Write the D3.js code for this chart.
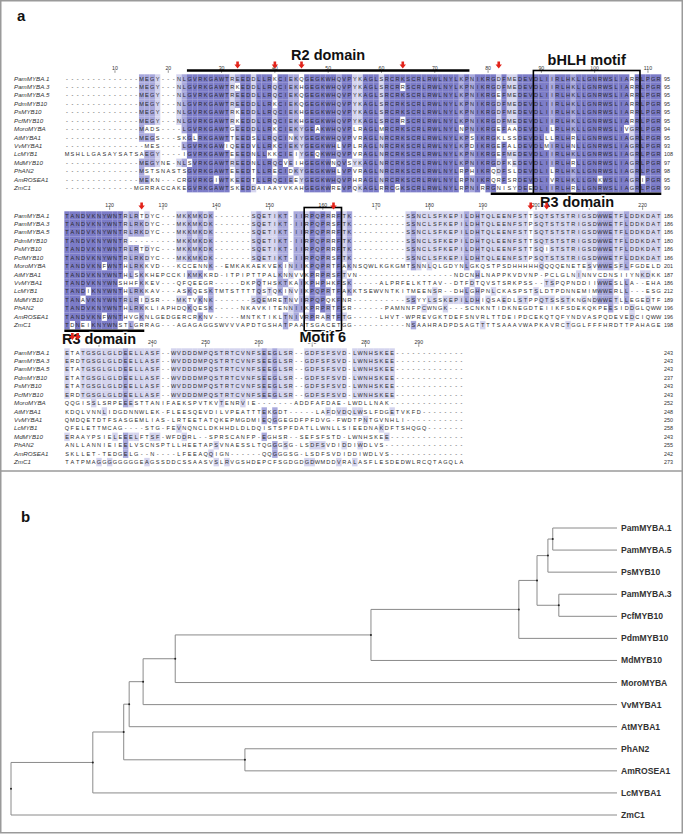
<!DOCTYPE html>
<html><head><meta charset="utf-8">
<script src="https://cdn.jsdelivr.net/npm/d3@7"></script>
<style>body{margin:0;background:#fff}svg{display:block}</style>
</head><body>
<svg id="fig" width="684" height="834"></svg>
<script>
// ---------------- DATA ----------------
const names = ["PamMYBA.1","PamMYBA.3","PamMYBA.5","PdmMYB10","PsMYB10","PcfMYB10","MoroMYBA","AtMYBA1","VvMYBA1","LcMYB1","MdMYB10","PhAN2","AmROSEA1","ZmC1"];

const block1 = [
 "--------------MEGY---NLGVRKGAWT"+"REEDDLLRKCIEKQGEGKWHQVPYKAGLSRCRKSCRLRWLNYL"+"KPNIKRGDFMEDEVDLIIRLHKLLGNRWSLIARRLPGR",
 "--------------MEGY---NLGVRKGAWT"+"RKEDDLLRQCIEKHGEGKWHQVPYKAGLSRCRRSCRLRWLNYL"+"KPNIKRGDFMEDEVDLIIRLHKLLGNRWSLIARRLPGR",
 "--------------MEGY---NLGVRKGAWT"+"REEDDLLRQCIEKQGEGKWHQVPYKAGLSRCRKSCRLRWLNYL"+"KPNIKRGEFMEDEVDLIIRLHKLLGNRWSLIARRLPGR",
 "--------------MEGY---NLGVRKGAWT"+"REEDDLLRKCIEKQGEGKWHQVPYKAGLSRCRKSCRLRWLNYL"+"KPNIKRGDFMEDEVDLIIRLHKLLGNRWSLIARRLPGR",
 "--------------MEGY---NLGVRKGAWT"+"RKEDDLLRQCIEKHGEGKWHQVPYKAGLSRCRKSCRLRWLNYL"+"KPNIKRGDFMEDEVDLIIRLHKLLGNRWSLIARRLPGR",
 "--------------MEGY---NLGVRKGAWT"+"RKEDDLLRQCIEKHGEGKWHQVPYKAGLSRCRRSCRLRWLNYL"+"KPNIKRGDFMEDEVDLIIRLHKLLGNRWSLIARRLPGR",
 "--------------MADS----LGVRKGAWT"+"GEEDDLLRKCIEKYGEAKWHQVPLRAGLMRCRKSCRLRWLNYL"+"NPNIKRGEFAADEVDLILRLHKLLGNRWSLIVGRLPGR",
 "--------------MEGS---SKGLRKGAWT"+"TEEDSLLRQCINKYGEGKWHQVPVRAGLNRCRKSCRLRWLNYL"+"KPSIKRGKLSSDEVDLLLRLHRLLGNRWSLIAGRLPGR",
 "---------------MES----LGVRKGAWI"+"QEEDVLLRKCIEKYGEGKWHLVPLRAGLNRCRKSCRLRWLNYL"+"KPDIKRGEFALDEVDLMIRLHNLLGNRWSLIAGRLPGR",
 "MSHLLGASAYSATSAEGY----IGVRKGAWT"+"EEEDNLLKKCIEIYGEQKWHQVPVRAGLNRCRKSCRLRWLNYL"+"KPNIKRGEFMEDEVDLIIRLHKLLGNRWSLIAGRLPGR",
 "--------------MEGYNE-NLSVRKGAWT"+"REEDNLLRQCVEIHGEGKWNQVSYKAGLNRCRKSCRLRWLNYL"+"KPNIKRGDFKEDEVDLIIRLHRLLGNRWSLIAGRLPGR",
 "--------------MSTSNASTSGVRKGAWT"+"EEEDTLLRECIDKYGEGKWHLVPVRAGLNRCRKSCRLRWLNYL"+"RPHIKRQDFSLDEVDLILRLHKLLGNRWSLIAGRLPGR",
 "--------------MEKN---CRGVRKGIWT"+"KEEDTLLRQCIEEYGEGKWHQVPHRAGLNRCRKSCRLRWLNYL"+"RPNIKRQRFSRDEVDLIVRLHKLLGNKWSLIAGRIPGR",
 "-------------MGRRACCAKEGVRKGAWT"+"SKEDDAIAAYVKAHGEGKWREVPQKAGLRRCGKSCRLRWLNYL"+"RPNIRRGNISYDEEDLIIRLHRLLGNRWSLIAGRLPGR"
];
const block2 = [
 "TANDVKNYWNTRLRTDYC---MKKMKDK-------SQETIKT-IIRPQPRRFTK----------SSNCLSFK"+"EPILDHTQLEENFSTTSQTSTSTRIGSDWWETFLDDKDAT",
 "TANDVKNYWNTRLRKDYC---MKKMKDK-------SQETIKT-IIRPQPRSFTK----------SSNCLSFK"+"EPILDHTQLEENFSTPSQTSTSTRIGSDWWETFLDDKDAT",
 "TANDVKNYWNTRLRKDYC---MKKMKDK-------SQETIKT-IIRPQPRRFTK----------SSNCLSFK"+"EPILDHTQLEENFSTTSQTSTSTRIGSDWWETFLDDKDAT",
 "TANDVKNYWNTR---------MKKMKDK-------SQETIKT-IIRPQPRRFTK----------SSNCLSFK"+"EPILDHTQLEENFSTTSQTSTSTRIGSDWWETFLDDKDAT",
 "TANDVKNYWNTRLRTDYC---MKKMKDK-------SQETIKT-IIRPQPRRFTK----------SSNCLSFK"+"EPILDHTQLEENFSTTSQISTSTRIGSDWWETFLDDKDAT",
 "TANDVKNYWNTRLRKDYC---MKKMKDK-------SQETIKT-IIRPQPRSFTK----------SSNCLSFK"+"EPILDHTQLEENFSTPSQTSTSTRIGSDWWETFLDDKDAT",
 "TANDVKNFWNTHLRKKVD---KCCENNK--EMKAKAEKVEKINIIKPQPRTFAKNSQWLKGKGMTSNNLQLG"+"DYNLGKQSTPSDHHHHHQQQQENETESVWWESFLFGDELD",
 "TANDVKNYWNTHLSKKHEPCCKIKMKKRD-ITPIPTTPALKNNVVKPRPRSFTVN-----------------"+"-NDCNHLNAPPKVDVNP-PCLGLNINNVCDNSIIYNKDKK",
 "TANDVKNYWNSHHFKKEV---QFQEEGR-----DKPQTHSKTKAIKPHPHKFSK-----ALPRFELKTTAV-"+"-DTFDTQVSTSRKPSS--TSPQPNDDIIWWESLLA--EHA",
 "TANDIKNYWNTHLRKKAV---ASKQESKTMTSTTTTQSTQKINVIKPQPRTFAKKTSEWVNTKITMEENSR-"+"-DHLGHPNLCKASPSTSLDTPDNNEMIMWWERLL---ESG",
 "TANAVKNYWNTRLRIDSR---MKTVKNK-------SQEMRETNVIRPQPQKFNR----------SSYYLSSK"+"EPILDHIQSAEDLSTPPQTSSSTKNGNDWWETLLEGEDTF",
 "TANDVKNYWNTHLRKKLIAPHDQKQESK-----NKAVKITENNIIKPRPRTFSR------PAMNNFPCWNGK"+"---SCNKNTIDKNEGDTEIIKFSDEKQKPEESIDDGLQWW",
 "TANDVKNFWNTHVGKNLGEDGERCRKNV-----MNTKTIKLTNIVRPRARTFTG-----LHVT-WPREVGKT"+"DEFSNVRLTTDEIPDCEKQTQFYNDVASPQDEVEDCIQWW",
 "TDNEIKNYWNSTLGRRAG---AGAGAGGSWVVVAPDTGSHATPAATSGACETGG----------NSAAHRAD"+"PDSAGTTTTSAAAVWAPKAVRCTGGLFFFHRDTTPAHAGE"
];
const block3 = [
 "ETATGSGLGLDEELLASF--WVDDDMPQSTRTCVNFSEEGLSR--GDFSFSVD-LWNHSKEE",
 "ERDTGSGLGLDEELLASF--WVDDDMPQSTRTCVNFSEEGLSR--GDFSFSVD-LWNHSKEE",
 "ETATGSGLGLDEELLASF--WVDDDMPQSTRTCVNFSEEGLSR--GDFSFSVD-LWNHSKEE",
 "ETATGSGLGLDEELLASF--WVDDDMPQSTRTCVNFSEEGLSR--GDFSFSVD-LWNHSKEE",
 "ETATGSGLGLDEELLASF--WVDDDMPQSTRTCVNFSEEGLSR--GDFSFSVD-LWNHSKEE",
 "ERDTGSGLGLDEELLASF--WVDDDMPQSTRTCVNFSEEGLSR--GDFSFSVD-LWNHSKEE",
 "QQGISSLSRPEEESTTANIFAEKSPVTKVTENRVIE-------ADDFAFDAE-LWDLLNAK",
 "KDQLVNNLIDGDNNWLEK-FLEESQEVDILVPEATTTEKGDT-----LAFDVDQLWSLFDGETVKFD",
 "QMDQETDTFSASGEMLIAS-LRTEETATQKEPMGDMIEQGGEGDFPFDVG-FWDTPNTGVNHLI",
 "QFELETTMCAG----STG-FEVNQNCLDKHHDLDLDQISTSPFDATLLWNLLSIEEDNAKDFTSHQGQ",
 "ERAAYPSIELEEELFTSF-WFDDRL--SPRSCANFP-EGHSR--SEFSFSTD-LWNHSKEE",
 "ANLLANNIEIEELVSCNSPTLLHEETAPSVNAESSLTQGGGSG-LSDFSVDIDDIWDLVS",
 "SKLLET-TEDGELG--N----LFEEAQQIGN------QQGGGSG-LSDFSVDIDDIWDLVS",
 "TATPMAGGGGGGGGEAGSSDDCSSAASVSLRVGSHDEPCFSGDGDGDWMDDVRALASFLESDEDWLRCQTAGQLA"
];
const blockStarts = [1, 112, 224];
const endNumbers1 = [95,95,95,95,95,95,94,95,93,108,97,98,95,99];
const endNumbers2 = [186,186,186,180,186,186,201,187,186,212,189,196,196,198];
const endNumbers3 = [243,243,243,237,243,243,252,248,250,258,243,255,242,273];

// alignment annotations (alignment column positions)
const domainBars = [ {block:0, from:24, to:76}, {block:0, from:81, to:112}, {block:1, from:112, to:126} ];
const motifBoxes = [ {block:0, from:89, to:108, label:"bHLH motif"}, {block:1, from:157, to:163, label:"Motif 6"} ];
const arrowCols = [ [33,40,45,64,82], [126,162,199,202], [225,226] ];

const treeNewick = "(((((((((((PamMYBA.1:0.106,PamMYBA.5:0.106):0.008,PsMYB10:0.114):0.018,(PamMYBA.3:0.096,PcfMYB10:0.096):0.036):0.030,PdmMYB10:0.162):0.244,MdMYB10:0.406):0.323,MoroMYBA:0.729):0.053,VvMYBA1:0.782):0.023,AtMYBA1:0.805):0.009,(PhAN2:0.614,AmROSEA1:0.614):0.200):0.051,LcMYBA1:0.865):0.135,ZmC1:1.0);";

// ---------------- DRAWING ----------------
const svg = d3.select("#fig");
const FONT = "'Liberation Sans', Arial, sans-serif";
svg.append("rect").attr("x",0.75).attr("y",0.75).attr("width",681.5).attr("height",832)
  .attr("fill","none").attr("stroke","#9a9a9a").attr("stroke-width",1.5);
svg.append("line").attr("x1",0).attr("x2",683).attr("y1",471).attr("y2",471)
  .attr("stroke","#9a9a9a").attr("stroke-width",1.5);

svg.append("text").attr("x",17).attr("y",21).text("a")
  .attr("font-family",FONT).attr("font-weight","bold").attr("font-size",15).attr("fill","#111");
svg.append("text").attr("x",21).attr("y",522).text("b")
  .attr("font-family",FONT).attr("font-weight","bold").attr("font-size",15).attr("fill","#111");

const colW = 5.33, colX0 = 67, rowH = 8.43;
const blockRow1 = [78.5, 215.5, 352.5];
const blocks = [block1, block2, block3];
const endNums = [endNumbers1, endNumbers2, endNumbers3];
const shade = ["#d4d4ee", "#a8a8dc", "#7c7cc8"];

const xScales = [], yScales = [];
const gAln = svg.append("g");
blocks.forEach((rowsRaw, b) => {
  const ncol = d3.max(rowsRaw, r => r.length);
  const rows = rowsRaw.map(r => r.padEnd(ncol, "-"));
  const start = blockStarts[b];
  const x = d3.scaleLinear().domain([start, start + 1]).range([colX0, colX0 + colW]);
  const y = d3.scaleBand().domain(names).range([blockRow1[b] - rowH/2, blockRow1[b] - rowH/2 + rowH*names.length]);
  xScales.push(x); yScales.push(y);
  const g = gAln.append("g");
  const cells = [];
  for (let c = 0; c < ncol; c++) {
    const counts = d3.rollup(rows.map(r => r[c]).filter(ch => ch !== "-"), v => v.length, d => d);
    const mx = d3.max(counts.values()) || 0;
    const pid = mx / rows.length;
    rows.forEach((r, i) => {
      const ch = r[c];
      let lvl = -1;
      if (ch !== "-" && counts.get(ch) === mx) {
        if (pid > 0.8) lvl = 2; else if (pid > 0.6) lvl = 1; else if (pid > 0.4) lvl = 0;
      }
      cells.push({c: start + c, name: names[i], ch, lvl});
    });
  }
  g.selectAll("rect.cell").data(cells.filter(d => d.lvl >= 0)).join("rect")
    .attr("x", d => x(d.c) - colW/2).attr("y", d => y(d.name))
    .attr("width", colW + 0.05).attr("height", y.bandwidth() + 0.05)
    .attr("fill", d => shade[d.lvl]);
  g.selectAll("text.res").data(cells).join("text")
    .attr("x", d => x(d.c)).attr("y", d => y(d.name) + y.bandwidth()/2 + 2)
    .attr("text-anchor", "middle").attr("font-family", FONT).attr("font-size", 5.6)
    .attr("fill", "#2a2a2a").text(d => d.ch);
  g.selectAll("text.nm").data(names).join("text")
    .attr("x", 14).attr("y", d => y(d) + y.bandwidth()/2 + 2.1)
    .attr("font-family", FONT).attr("font-style", "italic").attr("font-size", 6.2)
    .attr("fill", "#333").text(d => d);
  g.selectAll("text.en").data(endNums[b]).join("text")
    .attr("x", 664).attr("y", (d, i) => y(names[i]) + y.bandwidth()/2 + 2)
    .attr("font-family", FONT).attr("font-size", 5.4).attr("fill", "#333").text(d => d);
  const ticks = d3.range(Math.ceil(start/10)*10, start + ncol, 10);
  const ry = blockRow1[b] - 10.5;
  g.selectAll("text.rl").data(ticks).join("text")
    .attr("x", d => x(d)).attr("y", ry + 1.5).attr("text-anchor", "middle")
    .attr("font-family", FONT).attr("font-size", 5.2).attr("fill", "#333").text(d => d);
  g.selectAll("line.rt").data(ticks).join("line")
    .attr("x1", d => x(d)).attr("x2", d => x(d)).attr("y1", ry + 2.3).attr("y2", ry + 4.8)
    .attr("stroke", "#444").attr("stroke-width", 0.6);
});

const gAnn = svg.append("g");
domainBars.forEach(d => {
  const x = xScales[d.block], y = yScales[d.block];
  const yy = d.block === 0 && d.from < 80 ? blockRow1[0] - 8 : y.range()[1] + 1.5;
  gAnn.append("line").attr("x1", x(d.from) - colW/2).attr("x2", x(d.to) + colW/2)
    .attr("y1", yy).attr("y2", yy).attr("stroke", "#000").attr("stroke-width", 2.6);
});
motifBoxes.forEach(d => {
  const x = xScales[d.block], y = yScales[d.block];
  const top = blockRow1[d.block] - 8;
  gAnn.append("rect").attr("x", x(d.from) - colW/2).attr("y", top)
    .attr("width", x(d.to) - x(d.from) + colW).attr("height", y.range()[1] + 1.5 - top)
    .attr("fill", "none").attr("stroke", "#000").attr("stroke-width", 1.6);
});
const titles = [
  {text:"R2 domain", x: xScales[0](50), y: 60},
  {text:"bHLH motif", x: (xScales[0](89)+xScales[0](108))/2, y: 65},
  {text:"R3 domain", x: 577, y: 207},
  {text:"Motif 6", x: (xScales[1](157)+xScales[1](163))/2, y: 342},
  {text:"R3 domain", x: 99, y: 344}
];
gAnn.selectAll("text.tt").data(titles).join("text")
  .attr("x", d => d.x).attr("y", d => d.y).attr("text-anchor", "middle")
  .attr("font-family", FONT).attr("font-weight", "bold").attr("font-size", 14.5)
  .attr("fill", "#111").attr("stroke", "#fff").attr("stroke-width", 2.5)
  .attr("paint-order", "stroke").text(d => d.text);
arrowCols.forEach((cols, b) => {
  const x = xScales[b];
  const tipY = [68.5, 209.5, 340][b];
  cols.forEach(c => {
    const cx = x(c), t = tipY;
    gAnn.append("path")
      .attr("d", `M${cx-1.3},${t-7} L${cx+1.3},${t-7} L${cx+1.3},${t-4} L${cx+3.2},${t-4} L${cx},${t} L${cx-3.2},${t-4} L${cx-1.3},${t-4} Z`)
      .attr("fill", "#e2231a");
  });
});

// ---------------- TREE ----------------
function parseNewick(s) {
  let i = 0;
  function node() {
    const n = {};
    if (s[i] === "(") {
      i++; n.children = [node()];
      while (s[i] === ",") { i++; n.children.push(node()); }
      i++;
    }
    let name = "";
    while (i < s.length && !":,();".includes(s[i])) name += s[i++];
    n.name = name;
    n.len = 0;
    if (s[i] === ":") { i++; let num = ""; while (i < s.length && !",();".includes(s[i])) num += s[i++]; n.len = +num; }
    return n;
  }
  return node();
}
const root = d3.hierarchy(parseNewick(treeNewick));
root.eachBefore(d => d.dist = (d.parent ? d.parent.dist : 0) + d.data.len);
const leaves = root.leaves();
const ty = d3.scalePoint().domain(leaves.map(d => d.data.name)).range([528, 815]);
const tx = d3.scaleLinear().domain([0, d3.max(leaves, d => d.dist)]).range([11, 617]);
leaves.forEach(d => d.py = ty(d.data.name));
root.eachAfter(d => { if (d.children) d.py = (d.children[0].py + d.children[d.children.length-1].py)/2; });

const gT = svg.append("g").attr("stroke", "#8a8a8a").attr("stroke-width", 1).attr("fill", "none");
root.descendants().filter(d => d.parent).forEach(d => {
  gT.append("line").attr("x1", tx(d.parent.dist)).attr("x2", tx(d.dist)).attr("y1", d.py).attr("y2", d.py);
});
root.descendants().filter(d => d.children).forEach(d => {
  gT.append("line").attr("x1", tx(d.dist)).attr("x2", tx(d.dist))
    .attr("y1", d.children[0].py).attr("y2", d.children[d.children.length-1].py);
});
svg.append("g").selectAll("circle").data(root.descendants().filter(d => d.children)).join("circle")
  .attr("cx", d => tx(d.dist)).attr("cy", d => d.py).attr("r", 1).attr("fill", "#222");
svg.append("g").selectAll("text").data(leaves).join("text")
  .attr("x", 621).attr("y", d => d.py + 3)
  .attr("font-family", FONT).attr("font-weight", "bold").attr("font-size", 8.6)
  .attr("fill", "#333").text(d => d.data.name);
</script>
</body></html>
